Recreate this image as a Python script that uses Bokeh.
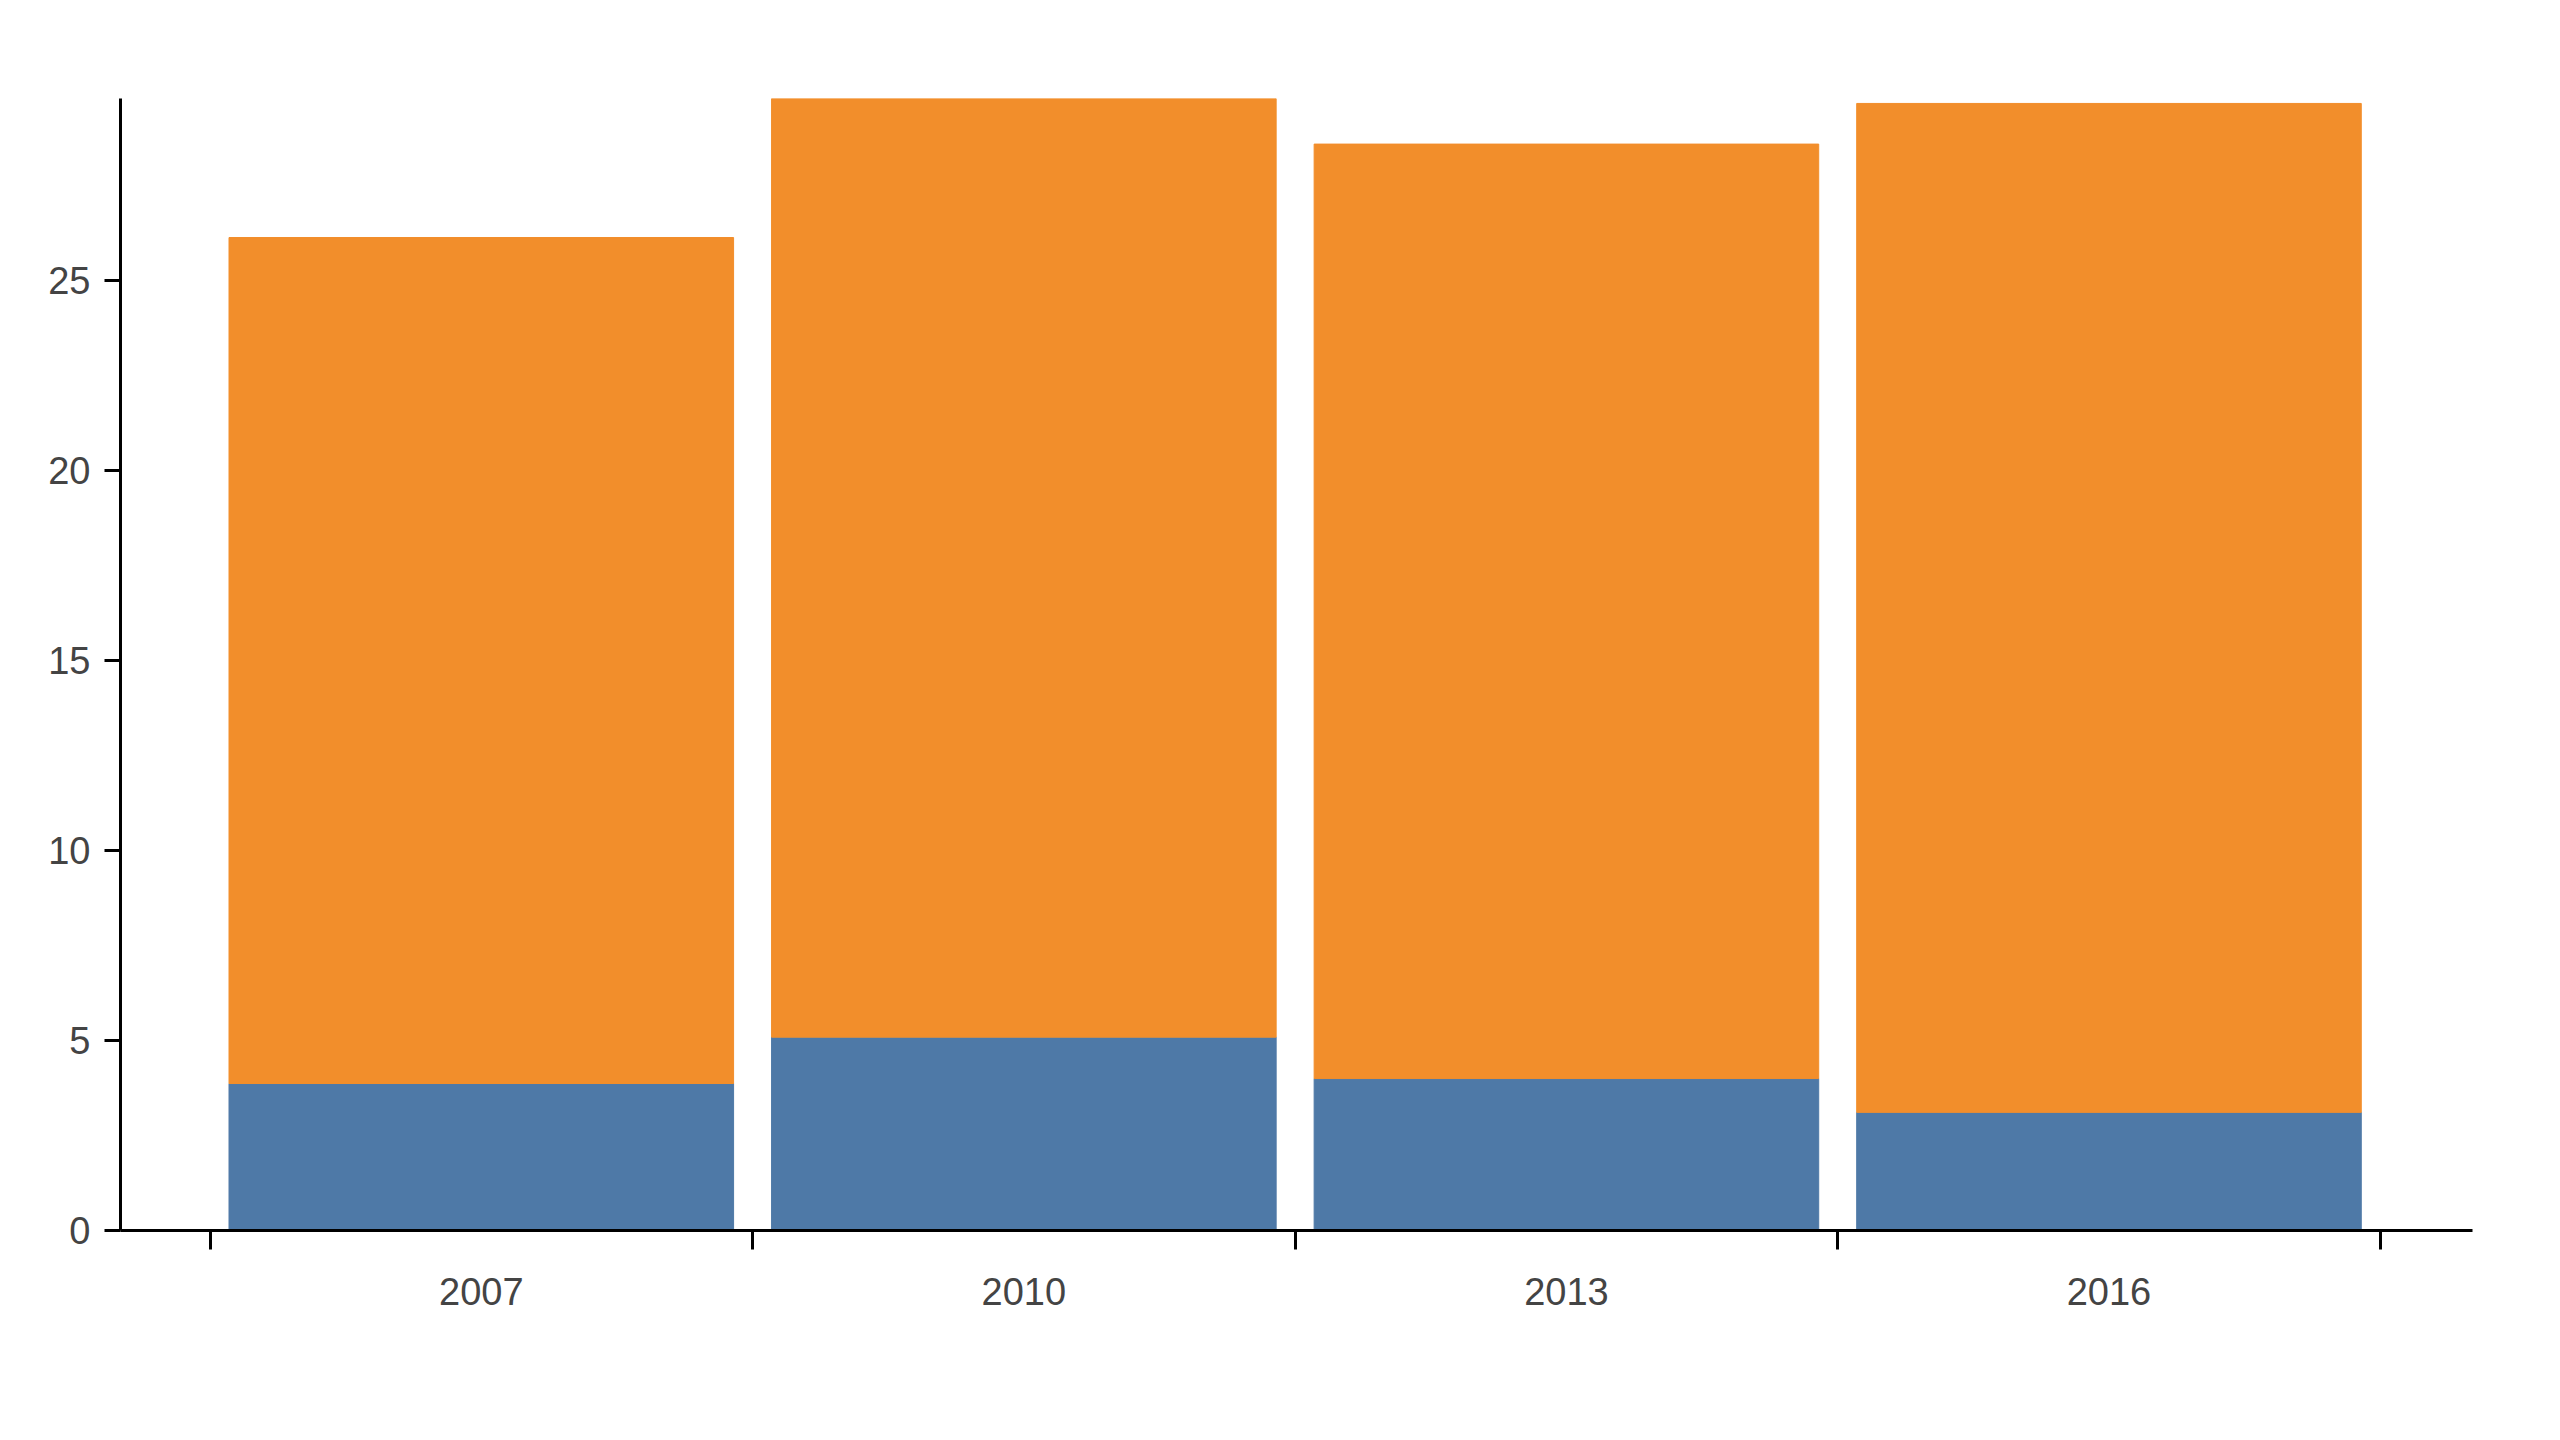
from bokeh.plotting import figure
from bokeh.models import FixedTicker, Legend, LegendItem, Label, Range1d, ColumnDataSource
from bokeh.embed import file_html
from bokeh.resources import INLINE

years = ["2007", "2010", "2013", "2016"]
adjusted = [3.87, 5.09, 4.0, 3.11]
segment2 = [22.27, 24.71, 24.6, 26.56]

xs = [i + 0.5 for i in range(len(years))]
tops = [a + b for a, b in zip(adjusted, segment2)]
src = ColumnDataSource(dict(x=xs, a=adjusted, t=tops, z=[0]*len(xs)))

W, H = 2496, 1416
L, R, T, B = 120, 24, 98, 186
p = figure(width=W, height=H, output_backend="svg", toolbar_location=None,
           x_range=Range1d(-0.165, 4.17), y_range=Range1d(0, 29.8),
           min_border_left=L, min_border_right=R, min_border_top=T, min_border_bottom=B)
p.outline_line_color = None
p.grid.visible = False
F = "Liberation Sans"
FS = "38px"

r1 = p.vbar(x="x", bottom="z", top="a", width=0.93, source=src, color="#4e79a7")
r2 = p.vbar(x="x", bottom="a", top="t", width=0.93, source=src, color="#f28e2b")

p.xaxis.ticker = FixedTicker(ticks=xs, minor_ticks=[0, 1, 2, 3, 4])
p.xaxis.major_label_overrides = {x: y for x, y in zip(xs, years)}
p.xaxis.major_tick_line_color = None
p.xaxis.minor_tick_out = 19
p.xaxis.minor_tick_in = 0
p.xaxis.minor_tick_line_width = 3
p.xaxis.major_label_standoff = 28
p.yaxis.ticker = FixedTicker(ticks=[0, 5, 10, 15, 20, 25])
p.yaxis.minor_tick_line_color = None
p.yaxis.major_tick_out = 16
p.yaxis.major_tick_in = 0
p.yaxis.major_label_standoff = 14
for ax in (p.xaxis, p.yaxis):
    ax.axis_line_width = 3
    ax.major_tick_line_width = 3
    ax.major_label_text_font = F
    ax.major_label_text_font_size = FS
    ax.major_label_text_color = "#444444"

frame_h = H - T - B
legend = Legend(items=[LegendItem(label="Adjusted", renderers=[r1]),
                       LegendItem(label="Segment 2", renderers=[r2])],
                orientation="horizontal", location=(805, frame_h + 36),
                label_text_font=F, label_text_font_size=FS, label_text_color="#222222",
                glyph_width=35, glyph_height=35, spacing=80, label_standoff=48,
                border_line_color=None, background_fill_alpha=0, padding=6, margin=0)
p.add_layout(legend, "center")

cap = Label(x=0, y=-146, x_units="screen", y_units="screen",
            text="Healthcare worker density is lowest in countries with highest disease burden.",
            text_font=F, text_font_size=FS, text_color="#444444", text_baseline="middle")
p.add_layout(cap)

open("out.html", "w").write(file_html(p, INLINE))
